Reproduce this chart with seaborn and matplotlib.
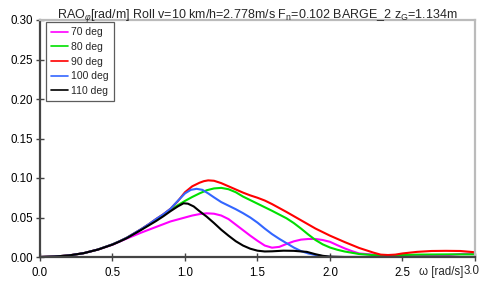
import matplotlib
matplotlib.use("Agg")
import matplotlib.pyplot as plt
import seaborn as sns
import pandas as pd

# ---- data ----
w70 = [0, 0.1, 0.2, 0.3, 0.4, 0.5, 0.6, 0.7, 0.8, 0.9, 1.0, 1.05, 1.1, 1.15, 1.2, 1.25, 1.3, 1.35,
       1.4, 1.45, 1.5, 1.55, 1.6, 1.65, 1.7, 1.75, 1.8, 1.85, 1.9, 1.95, 2.0, 2.05, 2.1, 2.15, 2.2,
       2.3, 2.4, 2.5, 2.6, 2.7, 2.8, 2.9, 3.0]
r70 = [0, 0.0006, 0.002, 0.0048, 0.0094, 0.0155, 0.0235, 0.031, 0.038, 0.045, 0.050, 0.0525, 0.0543,
       0.0553, 0.0548, 0.0525, 0.048, 0.041, 0.034, 0.027, 0.0205, 0.0145, 0.0118, 0.0128, 0.0165,
       0.0198, 0.022, 0.0228, 0.0228, 0.0215, 0.0192, 0.015, 0.011, 0.0075, 0.0045, 0.003, 0.0015,
       0.0008, 0.001, 0.0015, 0.0022, 0.0038, 0.0045]

w80 = [0, 0.1, 0.2, 0.3, 0.4, 0.5, 0.55, 0.6, 0.65, 0.7, 0.75, 0.8, 0.85, 0.9, 0.95, 1.0, 1.05, 1.1,
       1.15, 1.2, 1.25, 1.3, 1.35, 1.4, 1.45, 1.5, 1.6, 1.7, 1.75, 1.8, 1.85, 1.9, 1.95, 2.0, 2.05,
       2.1, 2.2, 2.3, 2.4, 2.6, 2.8, 3.0]
r80 = [0, 0.0006, 0.002, 0.0048, 0.0095, 0.016, 0.020, 0.0245, 0.0298, 0.0353, 0.041, 0.047, 0.053,
       0.0595, 0.0655, 0.071, 0.076, 0.0805, 0.0845, 0.0868, 0.0875, 0.0858, 0.082, 0.0765, 0.072,
       0.0675, 0.0585, 0.049, 0.043, 0.036, 0.0285, 0.0215, 0.016, 0.012, 0.0092, 0.007, 0.0038,
       0.0024, 0.002, 0.003, 0.0033, 0.0034]

w90 = [0, 0.1, 0.2, 0.3, 0.4, 0.5, 0.55, 0.6, 0.65, 0.7, 0.75, 0.8, 0.85, 0.9, 0.95, 1.0, 1.05, 1.1,
       1.13, 1.16, 1.2, 1.25, 1.3, 1.35, 1.4, 1.45, 1.5, 1.55, 1.6, 1.65, 1.7, 1.8, 1.9, 2.0, 2.1,
       2.2, 2.3, 2.35, 2.4, 2.45, 2.5, 2.6, 2.7, 2.8, 2.9, 3.0]
r90 = [0, 0.0006, 0.002, 0.0048, 0.0095, 0.016, 0.020, 0.0245, 0.030, 0.0355, 0.0415, 0.048, 0.054,
       0.061, 0.0705, 0.082, 0.0895, 0.094, 0.096, 0.097, 0.0965, 0.0935, 0.0895, 0.0855, 0.0815,
       0.078, 0.075, 0.0715, 0.067, 0.062, 0.057, 0.0465, 0.036, 0.027, 0.019, 0.0115, 0.0055, 0.003,
       0.0025, 0.003, 0.0045, 0.0065, 0.0076, 0.0078, 0.0076, 0.006]

w100 = [0, 0.1, 0.2, 0.3, 0.4, 0.5, 0.55, 0.6, 0.65, 0.7, 0.75, 0.8, 0.85, 0.9, 0.95, 1.0, 1.04, 1.08,
        1.12, 1.16, 1.2, 1.25, 1.3, 1.35, 1.4, 1.45, 1.5, 1.55, 1.6, 1.65, 1.7, 1.75, 1.8, 1.85, 1.9,
        1.95, 2.0, 2.5, 3.0]
r100 = [0, 0.0006, 0.002, 0.0048, 0.0095, 0.016, 0.020, 0.0245, 0.030, 0.0355, 0.0415, 0.048, 0.054,
        0.061, 0.071, 0.0805, 0.085, 0.0863, 0.085, 0.0805, 0.0755, 0.0695, 0.065, 0.0605, 0.0555,
        0.050, 0.0435, 0.036, 0.029, 0.023, 0.0175, 0.012, 0.0075, 0.0045, 0.0025, 0.001, 0.0, 0.0,
        0.0]

w110 = [0, 0.1, 0.2, 0.3, 0.4, 0.5, 0.55, 0.6, 0.65, 0.7, 0.75, 0.8, 0.85, 0.9, 0.95, 0.99, 1.02, 1.06,
        1.1, 1.15, 1.2, 1.25, 1.3, 1.35, 1.4, 1.45, 1.5, 1.55, 1.6, 1.68, 1.75, 1.84, 1.9, 1.95, 2.0,
        2.1, 2.5, 3.0]
r110 = [0, 0.0006, 0.002, 0.0048, 0.0094, 0.0157, 0.0197, 0.024, 0.0293, 0.0345, 0.040, 0.0455, 0.0515,
        0.058, 0.064, 0.068, 0.0675, 0.064, 0.058, 0.051, 0.043, 0.0345, 0.027, 0.020, 0.0145, 0.0105,
        0.008, 0.007, 0.0072, 0.008, 0.0078, 0.0065, 0.0035, 0.0015, 0.0005, 0.0, 0.0, 0.0]

labels = ["70 deg", "80 deg", "90 deg", "100 deg", "110 deg"]
colors = ["#ff00ff", "#00e000", "#ff0000", "#3366ff", "#000000"]
x_ticks = [0.0, 0.5, 1.0, 1.5, 2.0, 2.5, 3.0]
x_tick_labels = ["0.0", "0.5", "1.0", "1.5", "2.0", "2.5", "3.0"]
y_ticks = [0.00, 0.05, 0.10, 0.15, 0.20, 0.25, 0.30]
y_tick_labels = ["0.00", "0.05", "0.10", "0.15", "0.20", "0.25", "0.30"]
title = (r"RAO$_\varphi$[rad/m] Roll v=10 km/h=2.778m/s F$_\mathrm{n}$=0.102 "
         r"BARGE_2 z$_\mathrm{G}$=1.134m")
x_label = "ω [rad/s]"

series = [(w70, r70), (w80, r80), (w90, r90), (w100, r100), (w110, r110)]
frames = []
for lab, (w, r) in zip(labels, series):
    frames.append(pd.DataFrame({"omega": w, "rao": r, "heading": lab}))
df = pd.concat(frames, ignore_index=True)

sns.set_theme(style="white")
plt.rcParams["font.family"] = ["Liberation Sans", "DejaVu Sans"]
plt.rcParams["mathtext.fontset"] = "custom"
plt.rcParams["mathtext.rm"] = "Liberation Sans"
plt.rcParams["mathtext.it"] = "Liberation Sans:italic"

fig = plt.figure(figsize=(4.81, 2.85), dpi=100)
ax = fig.add_axes([40 / 481, 1 - 257 / 285, 435 / 481, 237 / 285])

sns.lineplot(data=df, x="omega", y="rao", hue="heading", hue_order=labels,
             palette=dict(zip(labels, colors)), sort=False, estimator=None,
             linewidth=1.5, ax=ax, legend=False)
for ln in ax.lines:
    ln.set_solid_joinstyle("round")
    ln.set_solid_capstyle("round")

ax.set_xlim(0, 3.0)
ax.set_ylim(0, 0.30)
ax.set_xticks(x_ticks)
# the last label is drawn separately, flush with the right edge after the axis name
ax.set_xticklabels(x_tick_labels[:-1] + [""])
ax.set_yticks(y_ticks)
ax.set_yticklabels(y_tick_labels)
ax.set_xlabel("")
ax.set_ylabel("")
ax.tick_params(axis="both", direction="inout", length=6, width=1.0,
               color="#444444", labelsize=8.3, labelcolor="black", pad=2,
               left=True, bottom=True)
ax.tick_params(axis="x", pad=4)

for side in ["left", "bottom"]:
    ax.spines[side].set_color("#444444")
    ax.spines[side].set_linewidth(1.6)
for side in ["top", "right"]:
    ax.spines[side].set_color("#bbbbbb")
    ax.spines[side].set_linewidth(1.6)

ax.set_title(title, fontsize=9, pad=1.5)
ax.text(463 / 481, 1 - 271.5 / 285, x_label, transform=fig.transFigure,
        ha="right", va="center", fontsize=8.3)
ax.text(480 / 481, 1 - 271.5 / 285, x_tick_labels[-1], transform=fig.transFigure,
        ha="right", va="center", fontsize=8.3)

handles = [plt.Line2D([], [], color=c, lw=1.2) for c in colors]
leg = ax.legend(handles, labels, loc="upper left",
                bbox_to_anchor=(6 / 435, 235 / 237), fontsize=7.5,
                handlelength=1.6, handletextpad=0.3, labelspacing=0.45,
                borderpad=0.5, borderaxespad=0, frameon=True, fancybox=False)
leg.get_frame().set_edgecolor("#333333")
leg.get_frame().set_linewidth(0.9)

fig.savefig("out.png", dpi=100)
